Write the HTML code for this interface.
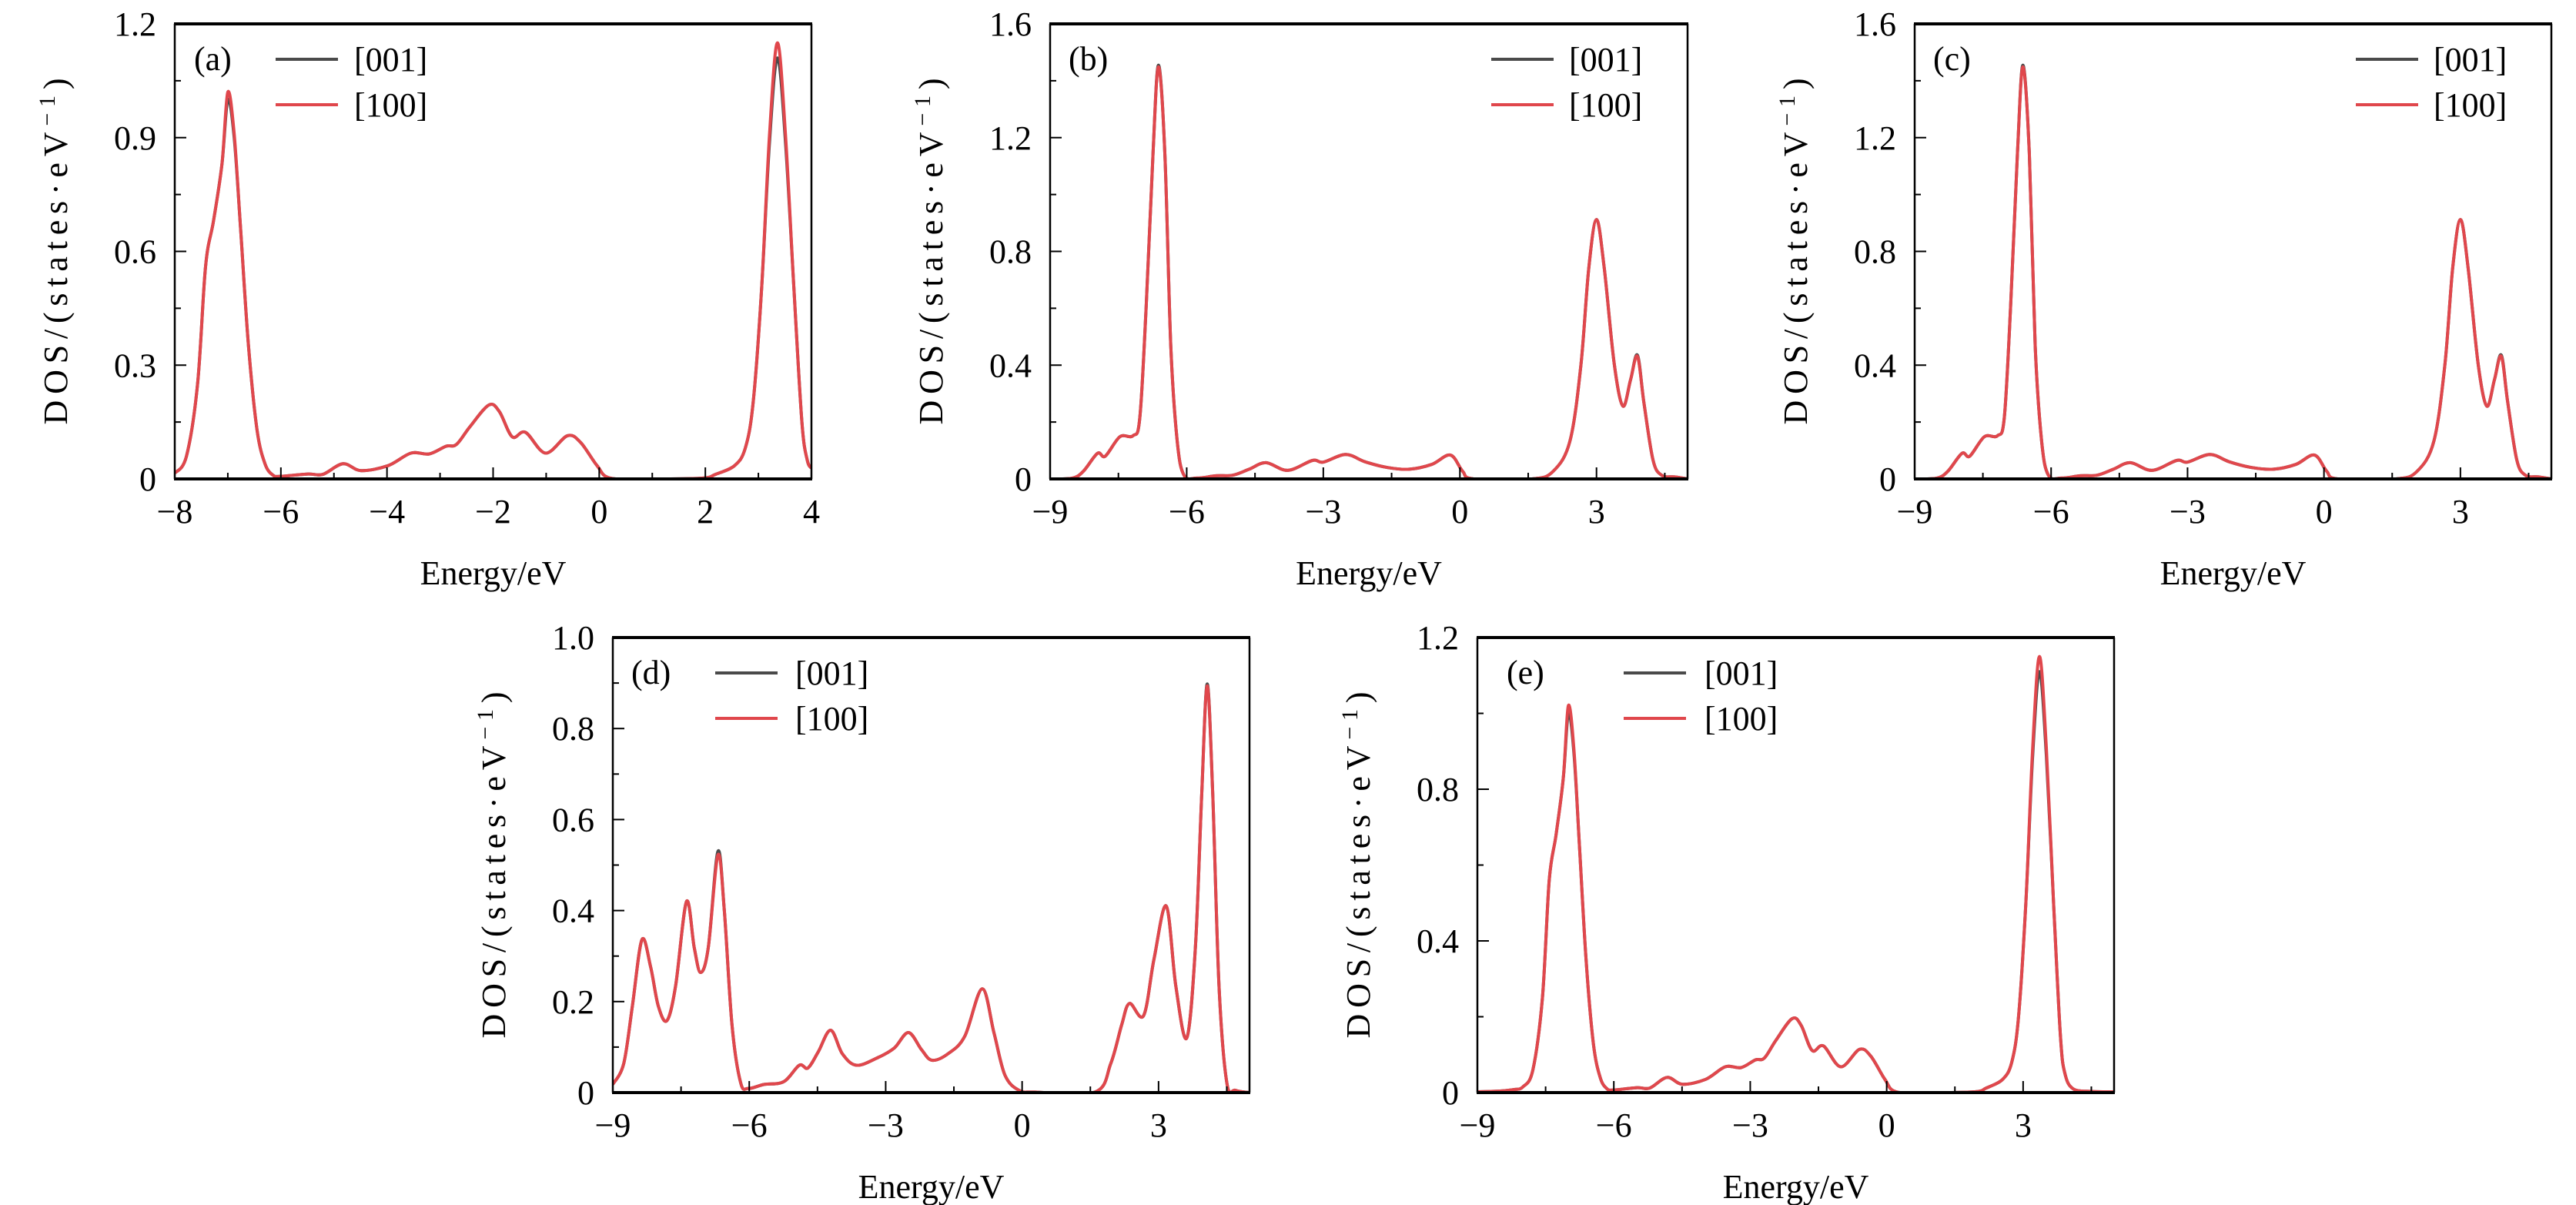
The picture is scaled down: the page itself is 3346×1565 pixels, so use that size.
<!DOCTYPE html>
<html><head><meta charset="utf-8"><style>
html,body{margin:0;padding:0;background:#fff;}
svg{display:block;font-family:"Liberation Serif","DejaVu Serif",serif;}
</style></head><body>
<svg id="fig" xmlns="http://www.w3.org/2000/svg" width="3346" height="1565" viewBox="0 0 3346 1565"></svg>
<script>
// ---------- data ----------
const energyA = [-8,-7.78,-7.57,-7.42,-7.27,-7.11,-7.0,-6.88,-6.76,-6.61,-6.45,-6.3,-6.15,-6.0,-5.49,-5.21,-4.83,-4.49,-3.98,-3.55,-3.2,-2.89,-2.69,-2.44,-2.08,-1.88,-1.64,-1.39,-1.01,-0.6,-0.35,-0.04,0.21,1.0,1.94,2.19,2.55,2.75,2.9,3.06,3.21,3.36,3.51,3.67,3.82,3.92,4.0];
const dosA100 = [0.015,0.06,0.25,0.56,0.68,0.83,1.02,0.91,0.66,0.35,0.13,0.04,0.01,0.007,0.013,0.012,0.04,0.022,0.035,0.068,0.066,0.086,0.091,0.137,0.195,0.177,0.111,0.123,0.068,0.114,0.096,0.035,0.002,0.0,0.002,0.012,0.035,0.08,0.2,0.5,0.91,1.15,0.91,0.5,0.15,0.05,0.028];
const dosA001 = [0.015,0.06,0.25,0.56,0.68,0.83,1.0,0.9,0.66,0.35,0.13,0.04,0.01,0.007,0.013,0.012,0.04,0.022,0.035,0.068,0.066,0.086,0.091,0.137,0.195,0.177,0.111,0.123,0.068,0.114,0.096,0.035,0.002,0.0,0.002,0.012,0.035,0.08,0.2,0.5,0.89,1.11,0.89,0.5,0.15,0.05,0.028];

const energyB = [-9,-8.51,-8.27,-7.96,-7.79,-7.47,-7.18,-7.03,-6.89,-6.74,-6.62,-6.48,-6.35,-6.21,-6.06,-5.77,-5.36,-4.99,-4.63,-4.26,-3.78,-3.24,-3.0,-2.51,-2.08,-1.59,-1.11,-0.62,-0.21,0.06,0.3,1.57,2.05,2.42,2.66,2.83,3.0,3.17,3.39,3.58,3.75,3.9,4.04,4.24,4.43,4.72,5.0];
const dosB100 = [0,0.003,0.027,0.09,0.08,0.148,0.152,0.215,0.607,1.146,1.449,1.146,0.47,0.135,0.013,0.003,0.011,0.013,0.034,0.057,0.03,0.065,0.059,0.086,0.06,0.04,0.034,0.051,0.084,0.027,0,0,0.027,0.135,0.404,0.741,0.912,0.741,0.404,0.256,0.35,0.431,0.27,0.067,0.013,0.007,0];
const dosB001 = [0,0.003,0.027,0.09,0.08,0.148,0.152,0.215,0.607,1.146,1.455,1.146,0.47,0.135,0.013,0.003,0.011,0.013,0.034,0.057,0.03,0.065,0.059,0.086,0.06,0.04,0.034,0.051,0.084,0.027,0,0,0.027,0.135,0.404,0.741,0.912,0.741,0.404,0.256,0.35,0.435,0.27,0.067,0.013,0.007,0];

const energyD = [-9,-8.76,-8.57,-8.36,-8.17,-8.0,-7.81,-7.62,-7.38,-7.21,-7.07,-6.9,-6.69,-6.55,-6.38,-6.19,-6.02,-5.67,-5.24,-4.9,-4.71,-4.48,-4.21,-3.95,-3.64,-3.17,-2.81,-2.5,-2.21,-1.98,-1.62,-1.26,-0.88,-0.62,-0.38,-0.07,0.29,1.6,1.95,2.19,2.36,2.67,2.9,3.17,3.38,3.62,3.81,3.95,4.07,4.19,4.33,4.5,4.69,5.0];
const dosD100 = [0.018,0.064,0.19,0.336,0.277,0.19,0.158,0.234,0.42,0.319,0.264,0.319,0.522,0.403,0.149,0.022,0.009,0.018,0.024,0.06,0.054,0.09,0.137,0.085,0.06,0.077,0.098,0.132,0.094,0.071,0.086,0.124,0.228,0.132,0.039,0.005,0.001,0.001,0.064,0.149,0.196,0.169,0.293,0.41,0.234,0.12,0.319,0.658,0.894,0.658,0.234,0.022,0.005,0];
const dosD001 = [0.018,0.064,0.19,0.336,0.277,0.19,0.158,0.234,0.42,0.319,0.264,0.319,0.53,0.403,0.149,0.022,0.009,0.018,0.024,0.06,0.054,0.09,0.137,0.085,0.06,0.077,0.098,0.132,0.094,0.071,0.086,0.124,0.228,0.132,0.039,0.005,0.001,0.001,0.064,0.149,0.196,0.169,0.293,0.41,0.234,0.12,0.319,0.658,0.898,0.658,0.234,0.022,0.005,0];

const energyE = [-9,-8.5,-8.2,-8.0,-7.78,-7.57,-7.42,-7.27,-7.11,-7.0,-6.88,-6.76,-6.61,-6.45,-6.3,-6.15,-6.0,-5.49,-5.21,-4.83,-4.49,-3.98,-3.55,-3.2,-2.89,-2.69,-2.44,-2.08,-1.88,-1.64,-1.39,-1.01,-0.6,-0.35,-0.04,0.21,1.0,1.94,2.19,2.55,2.75,2.9,3.06,3.21,3.36,3.51,3.67,3.82,3.92,4.1,4.5,5.0];
const dosE100 = [0.002,0.004,0.008,0.015,0.06,0.25,0.56,0.68,0.83,1.02,0.91,0.66,0.35,0.13,0.04,0.01,0.007,0.013,0.012,0.04,0.022,0.035,0.068,0.066,0.086,0.091,0.137,0.195,0.177,0.111,0.123,0.068,0.114,0.096,0.035,0.002,0.0,0.002,0.012,0.035,0.08,0.2,0.5,0.91,1.15,0.91,0.5,0.15,0.05,0.01,0.003,0.002];
const dosE001 = [0.002,0.004,0.008,0.015,0.06,0.25,0.56,0.68,0.83,1.0,0.9,0.66,0.35,0.13,0.04,0.01,0.007,0.013,0.012,0.04,0.022,0.035,0.068,0.066,0.086,0.091,0.137,0.195,0.177,0.111,0.123,0.068,0.114,0.096,0.035,0.002,0.0,0.002,0.012,0.035,0.08,0.2,0.5,0.89,1.11,0.89,0.5,0.15,0.05,0.01,0.003,0.002];

const xTicksA = [-8,-6,-4,-2,0,2,4];
const xTicks9 = [-9,-6,-3,0,3];
const yTicksA = [0,0.3,0.6,0.9,1.2];
const yTicksB = [0,0.4,0.8,1.2,1.6];
const yTicksD = [0,0.2,0.4,0.6,0.8,1.0];
const yTicksE = [0,0.4,0.8,1.2];
const seriesNames = ["[001]","[100]"];

// ---------- layout ----------
const NS = "http://www.w3.org/2000/svg";
const svg = document.getElementById('fig');
function mk(tag, attrs, parent){
  const e = document.createElementNS(NS, tag);
  for (const k in attrs) e.setAttribute(k, attrs[k]);
  (parent||svg).appendChild(e);
  return e;
}
function fmt(v){ const s = (Math.round(v*10)/10).toString(); return s.replace('-', '\u2212'); }
function fmtY(v, dec){ return v===0 ? "0" : v.toFixed(dec); }

const panels = [
  {id:'a', L:227, T:31, W:827, H:591, xmin:-8, xmax:4, xMinor:1, xt:xTicksA, ymax:1.2, yt:yTicksA, yMinor:0.15, dec:1, E:energyA, s001:dosA001, s100:dosA100, lab:25, leg:131, legT:233},
  {id:'b', L:1364, T:31, W:828, H:591, xmin:-9, xmax:5, xMinor:1.5, xt:xTicks9, ymax:1.6, yt:yTicksB, yMinor:0.2, dec:1, E:energyB, s001:dosB001, s100:dosB100, lab:24, leg:573, legT:674},
  {id:'c', L:2487, T:31, W:827, H:591, xmin:-9, xmax:5, xMinor:1.5, xt:xTicks9, ymax:1.6, yt:yTicksB, yMinor:0.2, dec:1, E:energyB, s001:dosB001, s100:dosB100, lab:24, leg:573, legT:674},
  {id:'d', L:796, T:828, W:827, H:591, xmin:-9, xmax:5, xMinor:1.5, xt:xTicks9, ymax:1.0, yt:yTicksD, yMinor:0.1, dec:1, E:energyD, s001:dosD001, s100:dosD100, lab:24, leg:133, legT:237},
  {id:'e', L:1919, T:828, W:827, H:591, xmin:-9, xmax:5, xMinor:1.5, xt:xTicks9, ymax:1.2, yt:yTicksE, yMinor:0.2, dec:1, E:energyE, s001:dosE001, s100:dosE100, lab:38, leg:190, legT:295}
];

function spline(pts){
  let d = 'M'+pts[0][0].toFixed(1)+','+pts[0][1].toFixed(1);
  for (let i=0;i<pts.length-1;i++){
    const p0=pts[Math.max(0,i-1)], p1=pts[i], p2=pts[i+1], p3=pts[Math.min(pts.length-1,i+2)];
    const c1x=p1[0]+(p2[0]-p0[0])/6, c1y=p1[1]+(p2[1]-p0[1])/6;
    const c2x=p2[0]-(p3[0]-p1[0])/6, c2y=p2[1]-(p3[1]-p1[1])/6;
    d += ' C'+c1x.toFixed(1)+','+c1y.toFixed(1)+' '+c2x.toFixed(1)+','+c2y.toFixed(1)+' '+p2[0].toFixed(1)+','+p2[1].toFixed(1);
  }
  return d;
}

panels.forEach(p=>{
  const g = mk('g', {});
  
  
  const xs = v => p.L + (v - p.xmin)/(p.xmax - p.xmin)*p.W;
  const ys = v => p.T + p.H - v/p.ymax*p.H;
  const B = p.T + p.H, R = p.L + p.W;

  const clip = mk('clipPath', {id:'clip-'+p.id}, g);
  mk('rect', {x:p.L, y:p.T-2, width:p.W, height:p.H+2}, clip);

  [['s001','#4a4a4a','series-001'],['s100','#e0474c','series-100']].forEach(([key,col,nm])=>{
    const pts = p.E.map((e,i)=>[xs(e), ys(p[key][i])]);
    const path = mk('path', {d:spline(pts), fill:'none', stroke:col, 'stroke-width':4, 'stroke-linejoin':'round', 'clip-path':'url(#clip-'+p.id+')'}, g);
    
    
  });

  const fr = mk('g', {}, g);
  
  
  mk('line', {x1:p.L, y1:p.T, x2:p.L, y2:B, stroke:'#000', 'stroke-width':2.5}, fr);
  mk('line', {x1:R, y1:p.T, x2:R, y2:B, stroke:'#000', 'stroke-width':2.5}, fr);
  mk('line', {x1:p.L-1, y1:p.T, x2:R+1, y2:p.T, stroke:'#000', 'stroke-width':4}, fr);
  mk('line', {x1:p.L-1, y1:B, x2:R+1, y2:B, stroke:'#000', 'stroke-width':4}, fr);

  for (let v=p.xmin; v<=p.xmax+1e-9; v+=p.xMinor){
    const major = p.xt.some(t=>Math.abs(t-v)<1e-6);
    mk('line', {x1:xs(v), y1:B, x2:xs(v), y2:B-(major?15:8), stroke:'#000', 'stroke-width':2}, g);
  }
  p.xt.forEach(v=>{
    const t = mk('text', {x:xs(v), y:B+57, 'font-size':44, 'text-anchor':'middle', fill:'#000'}, g);
    t.textContent = fmt(v);
    
    
  });
  for (let v=0; v<=p.ymax+1e-9; v+=p.yMinor){
    const major = p.yt.some(t=>Math.abs(t-v)<1e-6);
    mk('line', {x1:p.L, y1:ys(v), x2:p.L+(major?15:8), y2:ys(v), stroke:'#000', 'stroke-width':2}, g);
  }
  p.yt.forEach(v=>{
    const t = mk('text', {x:p.L-24, y:ys(v)+15, 'font-size':44, 'text-anchor':'end', fill:'#000'}, g);
    t.textContent = fmtY(v, p.dec);
    
    
  });

  const xt = mk('text', {x:p.L+p.W/2, y:B+137, 'font-size':44, 'text-anchor':'middle', fill:'#000'}, g);
  xt.textContent = 'Energy/eV';
  
  
  const cx = p.L-155, cy = p.T+p.H/2;
  const yt = mk('text', {x:0, y:0, 'font-size':44, 'text-anchor':'middle', fill:'#000', transform:'translate('+(cx+15)+','+cy+') rotate(-90)', textLength:450, lengthAdjust:'spacing'}, g);
  yt.innerHTML = 'DOS/(states·eV<tspan dy="-16" font-size="30">−1</tspan><tspan dy="16">)</tspan>';
  
  

  const pl = mk('text', {x:p.L+p.lab, y:p.T+60, 'font-size':44, fill:'#000'}, g);
  pl.textContent = '('+p.id+')';
  
  

  [['#4a4a4a',46],['#e0474c',105]].forEach(([col,dy],i)=>{
    const le = mk('g', {}, g);
    
    
    mk('line', {x1:p.L+p.leg, y1:p.T+dy, x2:p.L+p.leg+81, y2:p.T+dy, stroke:col, 'stroke-width':4}, le);
    const t = mk('text', {x:p.L+p.legT, y:p.T+dy+15, 'font-size':44, fill:'#000'}, le);
    t.textContent = seriesNames[i];
  });
});
</script>
</body></html>
